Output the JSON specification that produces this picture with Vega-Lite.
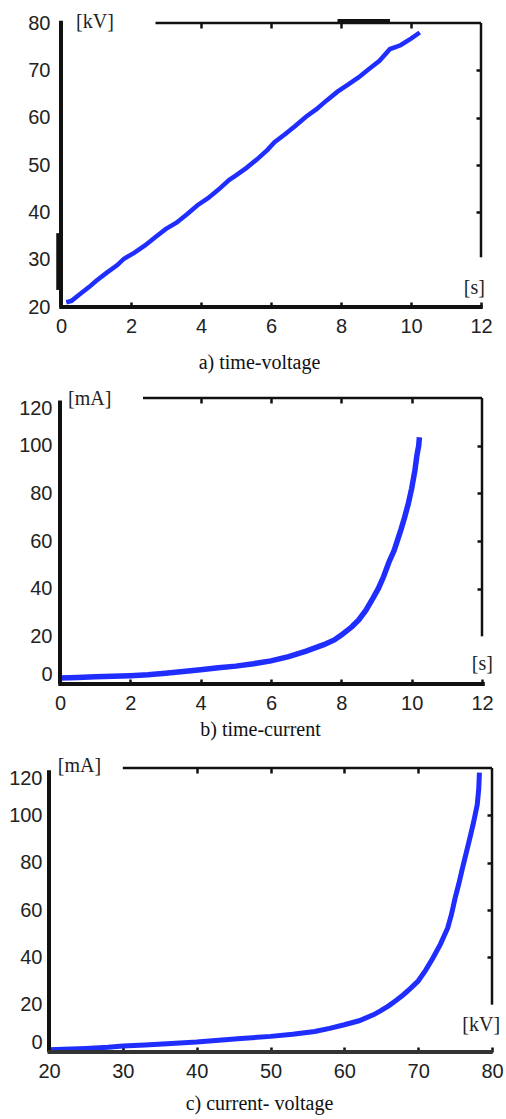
{
  "$schema": "https://vega.github.io/schema/vega-lite/v6.json",
  "padding": {"top": 12, "left": 5, "right": 5, "bottom": 5},
  "spacing": 16,
  "background": "white",
  "config": {
    "view": {"stroke": null},
    "axis": {"grid": false, "domain": false, "labelFont": "Liberation Sans", "labelFontSize": 20, "labelColor": "#222", "titleFont": "Liberation Serif", "titleFontSize": 20, "titleFontWeight": "normal", "titleColor": "#111", "labelFlush": false, "tickColor": "#111", "tickWidth": 2.5, "tickSize": 5, "zindex": 1},
    "text": {"font": "Liberation Serif", "fontSize": 20, "color": "#222"}
  },
  "datasets": {
    "tv": [
      {"t": 0.15, "v": 21}, {"t": 0.3, "v": 21.3}, {"t": 0.5, "v": 22.5}, {"t": 0.8, "v": 24.2}, {"t": 1.0, "v": 25.5}, {"t": 1.3, "v": 27.2}, {"t": 1.6, "v": 28.8}, {"t": 1.8, "v": 30.2}, {"t": 2.1, "v": 31.5}, {"t": 2.4, "v": 33}, {"t": 2.7, "v": 34.8}, {"t": 3.0, "v": 36.5}, {"t": 3.3, "v": 37.8}, {"t": 3.6, "v": 39.6}, {"t": 3.9, "v": 41.5}, {"t": 4.2, "v": 43}, {"t": 4.5, "v": 44.8}, {"t": 4.8, "v": 46.8}, {"t": 5.0, "v": 47.8}, {"t": 5.3, "v": 49.4}, {"t": 5.6, "v": 51.2}, {"t": 5.9, "v": 53.2}, {"t": 6.1, "v": 54.8}, {"t": 6.4, "v": 56.5}, {"t": 6.7, "v": 58.3}, {"t": 7.0, "v": 60.2}, {"t": 7.3, "v": 61.8}, {"t": 7.6, "v": 63.7}, {"t": 7.9, "v": 65.5}, {"t": 8.2, "v": 67}, {"t": 8.5, "v": 68.5}, {"t": 8.8, "v": 70.3}, {"t": 9.1, "v": 72}, {"t": 9.4, "v": 74.5}, {"t": 9.7, "v": 75.3}, {"t": 10.0, "v": 76.7}, {"t": 10.25, "v": 78}
    ],
    "tc": [
      {"t": 0, "i": 2.5}, {"t": 0.5, "i": 2.7}, {"t": 1, "i": 3}, {"t": 1.5, "i": 3.2}, {"t": 2, "i": 3.5}, {"t": 2.5, "i": 3.9}, {"t": 3, "i": 4.5}, {"t": 3.5, "i": 5.2}, {"t": 4, "i": 6}, {"t": 4.5, "i": 6.8}, {"t": 5, "i": 7.5}, {"t": 5.5, "i": 8.5}, {"t": 6, "i": 9.7}, {"t": 6.5, "i": 11.5}, {"t": 7, "i": 13.8}, {"t": 7.5, "i": 16.5}, {"t": 7.8, "i": 18.5}, {"t": 8, "i": 20.5}, {"t": 8.3, "i": 24}, {"t": 8.5, "i": 27}, {"t": 8.7, "i": 31}, {"t": 8.9, "i": 36}, {"t": 9.05, "i": 40}, {"t": 9.2, "i": 45}, {"t": 9.35, "i": 51}, {"t": 9.5, "i": 56}, {"t": 9.6, "i": 60.5}, {"t": 9.7, "i": 65}, {"t": 9.8, "i": 70}, {"t": 9.9, "i": 75.4}, {"t": 10, "i": 82}, {"t": 10.09, "i": 89.4}, {"t": 10.15, "i": 96}, {"t": 10.2, "i": 100}, {"t": 10.22, "i": 103.5}
    ],
    "cv": [
      {"v": 20, "i": 1}, {"v": 22, "i": 1.2}, {"v": 25, "i": 1.5}, {"v": 28, "i": 2}, {"v": 30, "i": 2.5}, {"v": 33, "i": 3}, {"v": 36, "i": 3.5}, {"v": 40, "i": 4.2}, {"v": 43, "i": 5}, {"v": 46, "i": 5.7}, {"v": 50, "i": 6.6}, {"v": 53, "i": 7.5}, {"v": 56, "i": 8.7}, {"v": 58, "i": 10}, {"v": 60, "i": 11.5}, {"v": 62, "i": 13.2}, {"v": 64, "i": 15.8}, {"v": 65, "i": 17.6}, {"v": 66, "i": 19.5}, {"v": 67, "i": 21.8}, {"v": 68, "i": 24.2}, {"v": 69, "i": 27}, {"v": 70, "i": 30}, {"v": 71, "i": 34.5}, {"v": 72, "i": 39.7}, {"v": 73, "i": 45.5}, {"v": 74, "i": 52.4}, {"v": 74.5, "i": 58}, {"v": 75, "i": 65}, {"v": 75.5, "i": 71}, {"v": 76, "i": 77.7}, {"v": 76.5, "i": 84}, {"v": 77, "i": 90.4}, {"v": 77.5, "i": 97}, {"v": 78, "i": 104.5}, {"v": 78.2, "i": 111}, {"v": 78.3, "i": 118}
    ]
  },
  "vconcat": [
    {
      "width": 432, "height": 284,
      "resolve": {"axis": {"x": "independent", "y": "independent"}},
      "layer": [
        {
          "data": {"name": "tv"},
          "mark": {"type": "line", "color": "#1f2dff", "strokeWidth": 4.5},
          "encoding": {
            "x": {"field": "t", "type": "quantitative", "scale": {"domain": [-0.343, 12], "nice": false, "zero": false},
                  "axis": {"values": [0, 2, 4, 6, 8, 10, 12], "title": "a) time-voltage", "titleX": 210, "titleY": 66, "titleBaseline": "alphabetic", "offset": -5, "labelPadding": 9}},
            "y": {"field": "v", "type": "quantitative", "scale": {"domain": [20, 80], "nice": false, "zero": false},
                  "axis": {"values": [20, 30, 40, 50, 60, 70, 80], "title": null, "offset": -12, "labelPadding": 11, "ticks": false}}
          }
        },
        {
          "data": {"name": "tv"},
          "mark": {"type": "line", "strokeOpacity": 0},
          "encoding": {
            "x": {"field": "t", "type": "quantitative", "axis": {"orient": "top", "values": [4, 6, 8, 10], "labels": false, "title": null, "offset": -5}},
            "y": {"field": "v", "type": "quantitative", "axis": {"orient": "right", "values": [40, 50, 60, 70], "labels": false, "title": null, "offset": -5}}
          }
        },
        {
          "data": {"values": [{}]},
          "mark": {"type": "rule", "color": "#111", "strokeWidth": 4},
          "encoding": {"x": {"datum": 0, "axis": null}, "y": {"datum": 20, "axis": null}, "y2": {"datum": 80.5}}
        },
        {
          "data": {"values": [{}]},
          "mark": {"type": "rule", "color": "#111", "strokeWidth": 6},
          "encoding": {"x": {"datum": -0.05, "axis": null}, "y": {"datum": 23.6, "axis": null}, "y2": {"datum": 35.6}}
        },
        {
          "data": {"values": [{}]},
          "mark": {"type": "rule", "color": "#111", "strokeWidth": 4},
          "encoding": {"y": {"datum": 20, "axis": null}, "x": {"datum": -0.05, "axis": null}, "x2": {"datum": 12.05}}
        },
        {
          "data": {"values": [{}]},
          "mark": {"type": "rule", "color": "#111", "strokeWidth": 2.5},
          "encoding": {"y": {"datum": 80, "axis": null}, "x": {"datum": 2.7, "axis": null}, "x2": {"datum": 12}}
        },
        {
          "data": {"values": [{}]},
          "mark": {"type": "rule", "color": "#111", "strokeWidth": 5},
          "encoding": {"y": {"datum": 80.3, "axis": null}, "x": {"datum": 7.9, "axis": null}, "x2": {"datum": 9.4}}
        },
        {
          "data": {"values": [{}]},
          "mark": {"type": "rule", "color": "#111", "strokeWidth": 2.5},
          "encoding": {"x": {"datum": 12, "axis": null}, "y": {"datum": 30.5, "axis": null}, "y2": {"datum": 80}}
        },
        {
          "data": {"values": [{}]},
          "mark": {"type": "text", "align": "left", "baseline": "middle"},
          "encoding": {"x": {"datum": 0.43, "axis": null}, "y": {"datum": 80.2, "axis": null}, "text": {"value": "[kV]"}}
        },
        {
          "data": {"values": [{}]},
          "mark": {"type": "text", "align": "right", "baseline": "middle"},
          "encoding": {"x": {"datum": 12.11, "axis": null}, "y": {"datum": 24, "axis": null}, "text": {"value": "[s]"}}
        }
      ]
    },
    {
      "width": 433, "height": 286,
      "resolve": {"axis": {"x": "independent", "y": "independent"}},
      "layer": [
        {
          "data": {"name": "tc"},
          "mark": {"type": "line", "color": "#1f2dff", "strokeWidth": 5.5},
          "encoding": {
            "x": {"field": "t", "type": "quantitative", "scale": {"domain": [-0.313, 12], "nice": false, "zero": false},
                  "axis": {"values": [0, 2, 4, 6, 8, 10, 12], "title": "b) time-current", "titleX": 211, "titleY": 56, "titleBaseline": "alphabetic", "offset": -5, "labelPadding": 9}},
            "y": {"field": "i", "type": "quantitative", "scale": {"domain": [0, 120], "nice": false},
                  "axis": {"values": [0, 20, 40, 60, 80, 100, 120], "title": null, "offset": -11, "labelPadding": 8, "labelFlush": true, "ticks": false}}
          }
        },
        {
          "data": {"name": "tc"},
          "mark": {"type": "line", "strokeOpacity": 0},
          "encoding": {
            "x": {"field": "t", "type": "quantitative", "axis": {"orient": "top", "values": [4, 6, 8, 10], "labels": false, "title": null, "offset": -5}},
            "y": {"field": "i", "type": "quantitative", "axis": {"orient": "right", "values": [40, 60, 80, 100], "labels": false, "title": null, "offset": -5}}
          }
        },
        {
          "data": {"values": [{}]},
          "mark": {"type": "rule", "color": "#111", "strokeWidth": 4},
          "encoding": {"x": {"datum": 0, "axis": null}, "y": {"datum": 0, "axis": null}, "y2": {"datum": 119}}
        },
        {
          "data": {"values": [{}]},
          "mark": {"type": "rule", "color": "#111", "strokeWidth": 4},
          "encoding": {"y": {"datum": 0, "axis": null}, "x": {"datum": -0.05, "axis": null}, "x2": {"datum": 12.08}}
        },
        {
          "data": {"values": [{}]},
          "mark": {"type": "rule", "color": "#111", "strokeWidth": 2.5},
          "encoding": {"y": {"datum": 120, "axis": null}, "x": {"datum": 2.36, "axis": null}, "x2": {"datum": 12}}
        },
        {
          "data": {"values": [{}]},
          "mark": {"type": "rule", "color": "#111", "strokeWidth": 2.5},
          "encoding": {"x": {"datum": 12, "axis": null}, "y": {"datum": 20, "axis": null}, "y2": {"datum": 120}}
        },
        {
          "data": {"values": [{}]},
          "mark": {"type": "text", "align": "left", "baseline": "middle"},
          "encoding": {"x": {"datum": 0.23, "axis": null}, "y": {"datum": 119.6, "axis": null}, "text": {"value": "[mA]"}}
        },
        {
          "data": {"values": [{}]},
          "mark": {"type": "text", "align": "right", "baseline": "middle"},
          "encoding": {"x": {"datum": 12.31, "axis": null}, "y": {"datum": 8.4, "axis": null}, "text": {"value": "[s]"}}
        }
      ]
    },
    {
      "width": 443, "height": 284,
      "resolve": {"axis": {"x": "independent", "y": "independent"}},
      "layer": [
        {
          "data": {"name": "cv"},
          "mark": {"type": "line", "color": "#1f2dff", "strokeWidth": 5},
          "encoding": {
            "x": {"field": "v", "type": "quantitative", "scale": {"domain": [20, 80], "nice": false, "zero": false},
                  "axis": {"values": [20, 30, 40, 50, 60, 70, 80], "title": "c) current- voltage", "titleX": 210, "titleY": 62, "titleBaseline": "alphabetic", "offset": -5, "labelPadding": 9}},
            "y": {"field": "i", "type": "quantitative", "scale": {"domain": [0, 120], "nice": false},
                  "axis": {"values": [0, 20, 40, 60, 80, 100, 120], "title": null, "labelPadding": 7, "labelFlush": true, "minExtent": 44, "ticks": false}}
          }
        },
        {
          "data": {"name": "cv"},
          "mark": {"type": "line", "strokeOpacity": 0},
          "encoding": {
            "x": {"field": "v", "type": "quantitative", "axis": {"orient": "top", "values": [40, 50, 60, 70], "labels": false, "title": null, "offset": -5}},
            "y": {"field": "i", "type": "quantitative", "axis": {"orient": "right", "values": [40, 60, 80, 100], "labels": false, "title": null, "offset": -5}}
          }
        },
        {
          "data": {"values": [{}]},
          "mark": {"type": "rule", "color": "#111", "strokeWidth": 4},
          "encoding": {"x": {"datum": 20, "axis": null}, "y": {"datum": 0, "axis": null}, "y2": {"datum": 119}}
        },
        {
          "data": {"values": [{}]},
          "mark": {"type": "rule", "color": "#333", "strokeWidth": 4},
          "encoding": {"y": {"datum": 0, "axis": null}, "x": {"datum": 19.8, "axis": null}, "x2": {"datum": 80.1}}
        },
        {
          "data": {"values": [{}]},
          "mark": {"type": "rule", "color": "#111", "strokeWidth": 2.5},
          "encoding": {"y": {"datum": 120, "axis": null}, "x": {"datum": 30, "axis": null}, "x2": {"datum": 80}}
        },
        {
          "data": {"values": [{}]},
          "mark": {"type": "rule", "color": "#111", "strokeWidth": 2.5},
          "encoding": {"x": {"datum": 80, "axis": null}, "y": {"datum": 20, "axis": null}, "y2": {"datum": 120}}
        },
        {
          "data": {"values": [{}]},
          "mark": {"type": "text", "align": "left", "baseline": "middle"},
          "encoding": {"x": {"datum": 21.2, "axis": null}, "y": {"datum": 121, "axis": null}, "text": {"value": "[mA]"}}
        },
        {
          "data": {"values": [{}]},
          "mark": {"type": "text", "align": "right", "baseline": "middle"},
          "encoding": {"x": {"datum": 81.1, "axis": null}, "y": {"datum": 11.4, "axis": null}, "text": {"value": "[kV]"}}
        }
      ]
    }
  ]
}
